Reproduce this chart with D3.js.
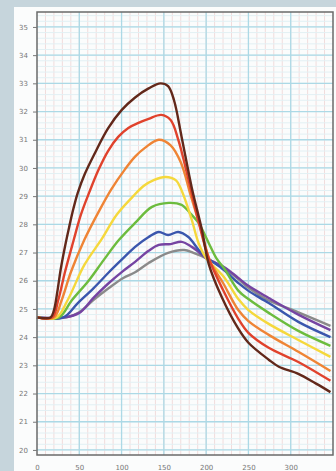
<!DOCTYPE html>
<html>
<head>
<meta charset="utf-8">
<script src="https://cdn.jsdelivr.net/npm/d3@7"></script>
<style>
  body { margin: 0; background: #c6d5dc; }
  svg { display: block; }
</style>
</head>
<body>
<script>
// DATA (x = time, y = temperature)
const X_TICKS = [0, 50, 100, 150, 200, 250, 300];
const Y_TICKS = [20, 21, 22, 23, 24, 25, 26, 27, 28, 29, 30, 31, 32, 33, 34, 35];

const brown = [[0,24.7],[16,24.7],[20,24.95],[24,25.6],[28,26.4],[33,27.2],[38,27.9],[43,28.55],[48,29.1],[56,29.75],[68,30.5],[84,31.4],[100,32.05],[116,32.5],[132,32.82],[146,33.0],[155,32.9],[162,32.4],[171,31.1],[183,29.3],[195,27.8],[203,26.6],[218,25.45],[238,24.3],[250,23.8],[274,23.2],[286,22.95],[309,22.7],[330,22.35],[347,22.05]];
const red = [[0,24.7],[18,24.7],[25,25.3],[33,26.3],[43,27.4],[52,28.35],[62,29.15],[73,29.95],[84,30.6],[96,31.1],[108,31.42],[120,31.6],[132,31.74],[147,31.88],[158,31.7],[167,31.0],[179,29.6],[191,28.1],[203,26.8],[220,25.67],[238,24.65],[250,24.15],[274,23.62],[309,23.12],[347,22.45]];
const orange = [[0,24.7],[20,24.7],[29,25.3],[40,26.3],[56,27.45],[73,28.45],[88,29.25],[104,29.95],[116,30.4],[128,30.72],[144,31.0],[158,30.8],[170,30.2],[182,29.0],[194,27.8],[205,26.67],[220,25.92],[238,24.96],[250,24.57],[274,24.08],[309,23.48],[347,22.8]];
const yellow = [[0,24.7],[23,24.7],[36,25.3],[56,26.56],[77,27.5],[94,28.33],[112,28.94],[126,29.36],[138,29.57],[152,29.68],[164,29.57],[171,29.2],[183,28.16],[191,27.34],[200,26.8],[221,26.13],[238,25.35],[250,24.96],[274,24.47],[309,23.9],[347,23.3]];
const green = [[0,24.7],[26,24.7],[41,25.3],[61,26.0],[79,26.74],[97,27.45],[116,28.05],[136,28.62],[156,28.76],[171,28.69],[181,28.4],[191,28.05],[203,27.34],[212,26.8],[221,26.45],[238,25.65],[250,25.35],[274,24.86],[309,24.22],[347,23.69]];
const blue = [[0,24.7],[31,24.7],[48,25.2],[67,25.74],[85,26.3],[102,26.8],[116,27.2],[132,27.55],[144,27.73],[155,27.62],[167,27.73],[179,27.55],[191,27.1],[200,26.84],[221,26.38],[238,25.92],[250,25.64],[274,25.21],[309,24.54],[347,24.0]];
const purple = [[0,24.7],[33,24.7],[50,24.86],[67,25.4],[85,25.92],[102,26.35],[116,26.67],[132,27.06],[144,27.27],[158,27.3],[171,27.38],[183,27.2],[191,27.02],[200,26.8],[221,26.49],[238,26.1],[250,25.82],[274,25.39],[309,24.8],[347,24.25]];
const gray = [[0,24.7],[35,24.7],[50,24.88],[67,25.32],[85,25.74],[102,26.1],[116,26.3],[132,26.63],[155,26.99],[174,27.09],[185,26.99],[200,26.8],[221,26.45],[238,26.06],[250,25.75],[274,25.3],[309,24.88],[347,24.4]];

const SERIES = [
  {name: 'gray', values: gray, color: '#8a8a8a'},
  {name: 'purple', values: purple, color: '#7544a2'},
  {name: 'blue', values: blue, color: '#3a56ad'},
  {name: 'green', values: green, color: '#6cbc3e'},
  {name: 'yellow', values: yellow, color: '#f5d83c'},
  {name: 'orange', values: orange, color: '#ef8435'},
  {name: 'red', values: red, color: '#e0422c'},
  {name: 'brown', values: brown, color: '#62281a'}
];

const WIDTH = 336;
const HEIGHT = 471;

const X_SCALE = d3.scaleLinear().domain([0, 350]).range([37, 333]);
const Y_SCALE = d3.scaleLinear().domain([19.82, 35.53]).range([455, 12]);

const svg = d3.select('body')
  .append('svg')
  .attr('width', WIDTH)
  .attr('height', HEIGHT);

// white panel
svg.append('rect')
  .attr('x', 14)
  .attr('y', 7)
  .attr('width', WIDTH - 14)
  .attr('height', HEIGHT - 7)
  .attr('fill', '#fbfcfc');

// GRID
const grid = svg.append('g');
grid.selectAll('.vmin')
  .data(d3.range(10, 350, 10))
  .enter().append('line')
  .attr('x1', d => X_SCALE(d)).attr('x2', d => X_SCALE(d))
  .attr('y1', 12).attr('y2', 455)
  .attr('stroke', '#f1dcdc')
  .attr('stroke-width', 1);
grid.selectAll('.hmin')
  .data(d3.range(20, 35.6, 0.2))
  .enter().append('line')
  .attr('x1', 37).attr('x2', 333)
  .attr('y1', d => Y_SCALE(d)).attr('y2', d => Y_SCALE(d))
  .attr('stroke', '#e2f0f4')
  .attr('stroke-width', 1);
grid.selectAll('.vmaj')
  .data(d3.range(50, 350, 50))
  .enter().append('line')
  .attr('x1', d => X_SCALE(d)).attr('x2', d => X_SCALE(d))
  .attr('y1', 12).attr('y2', 455)
  .attr('stroke', '#acd9e6')
  .attr('stroke-width', 1.3);
grid.selectAll('.hmaj')
  .data(Y_TICKS)
  .enter().append('line')
  .attr('x1', 37).attr('x2', 333)
  .attr('y1', d => Y_SCALE(d)).attr('y2', d => Y_SCALE(d))
  .attr('stroke', '#acd9e6')
  .attr('stroke-width', 1.3);

// LINES
const line = d3.line()
  .x(d => X_SCALE(d[0]))
  .y(d => Y_SCALE(d[1]))
  .curve(d3.curveCatmullRom.alpha(0.5));

svg.append('g')
  .selectAll('path')
  .data(SERIES)
  .enter().append('path')
  .attr('d', d => line(d.values))
  .attr('fill', 'none')
  .attr('stroke', d => d.color)
  .attr('stroke-width', 2.4)
  .attr('stroke-linejoin', 'round');

// FRAME
svg.append('rect')
  .attr('x', 37)
  .attr('y', 12)
  .attr('width', 333 - 37)
  .attr('height', 455 - 12)
  .attr('fill', 'none')
  .attr('stroke', '#6a6a6a')
  .attr('stroke-width', 1.5);

// AXES
const Y_AXIS = d3.axisLeft(Y_SCALE).tickValues(Y_TICKS).tickSize(4).tickPadding(5);
const X_AXIS = d3.axisBottom(X_SCALE).tickValues(X_TICKS).tickSize(0).tickPadding(10);

const gy = svg.append('g')
  .attr('transform', 'translate(37,0)')
  .call(Y_AXIS);
const gx = svg.append('g')
  .attr('transform', 'translate(0,455)')
  .call(X_AXIS);

[gx, gy].forEach(g => {
  g.select('.domain').remove();
  g.selectAll('line').attr('stroke', '#777');
  g.selectAll('text')
    .attr('fill', '#777')
    .style('font-family', 'DejaVu Sans, sans-serif')
    .style('font-size', '7px');
});
</script>
</body>
</html>
